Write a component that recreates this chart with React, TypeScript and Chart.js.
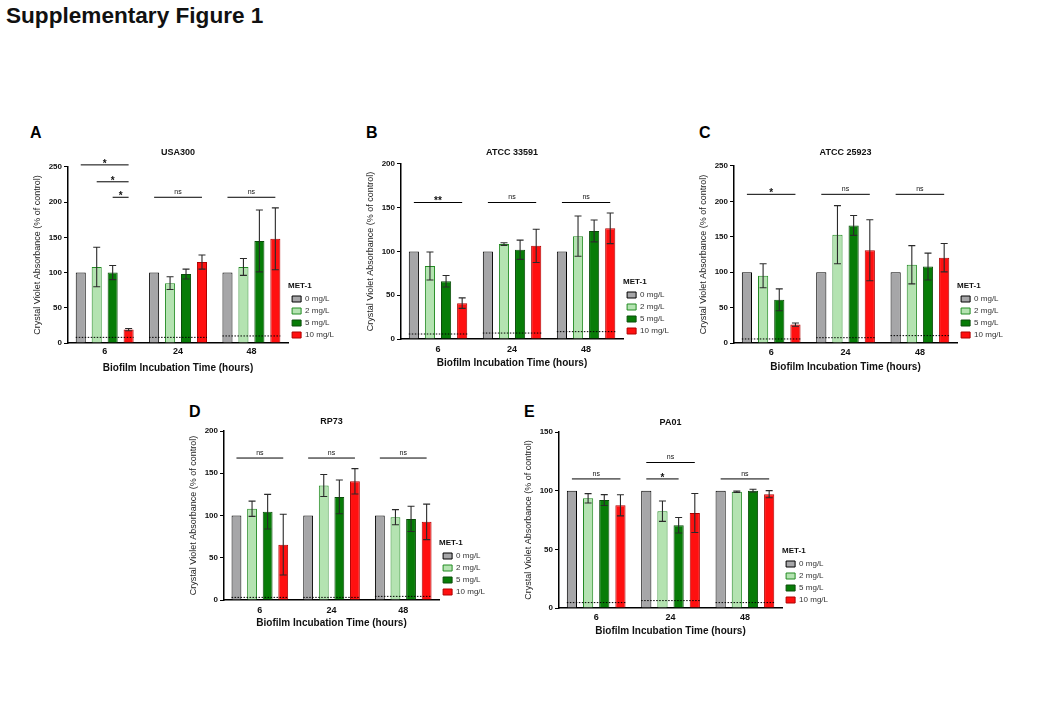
import React, { useEffect, useRef } from "react";
import { Chart, registerables } from "chart.js";

Chart.register(...registerables);

const FONT = "'Liberation Sans', Arial, sans-serif";
Chart.defaults.font.family = FONT;

// ---- data (rows = MET-1 dose, columns = incubation time) ----
const categories = ["6", "24", "48"];
const doses = ["0 mg/L", "2 mg/L", "5 mg/L", "10 mg/L"];

const usa300Means = [[100, 100, 100], [108, 85, 108], [100, 98, 145], [19, 115, 148]];
const usa300Sd = [[0, 0, 0], [28, 9, 12], [10, 7, 44], [1.5, 10, 44]];
const usa300Blank = [8, 8, 10];
const usa300Sig = [
  { group: 0, from: 0, to: 3, value: 253, label: "*" },
  { group: 0, from: 1, to: 3, value: 229, label: "*" },
  { group: 0, from: 2, to: 3, value: 207, label: "*" },
  { group: 1, from: 0, to: 3, value: 207, label: "ns" },
  { group: 2, from: 0, to: 3, value: 207, label: "ns" },
];

const atcc33591Means = [[100, 100, 100], [83.5, 108.5, 117.5], [66, 102, 123.5], [41, 106.5, 126.5]];
const atcc33591Sd = [[0, 0, 0], [16, 1.5, 23], [6.5, 11, 12.5], [6, 19, 17.5]];
const atcc33591Blank = [5.7, 6.8, 8.4];
const atcc33591Sig = [
  { group: 0, from: 0, to: 3, value: 156, label: "**" },
  { group: 1, from: 0, to: 3, value: 156, label: "ns" },
  { group: 2, from: 0, to: 3, value: 156, label: "ns" },
];

const atcc25923Means = [[100, 100, 100], [95, 153, 110.5], [61, 166, 108], [26, 131, 120.5]];
const atcc25923Sd = [[0, 0, 0], [17, 41, 27], [15.5, 14, 19], [2.3, 43, 20]];
const atcc25923Blank = [5.7, 7.5, 10.4];
const atcc25923Sig = [
  { group: 0, from: 0, to: 3, value: 210, label: "*" },
  { group: 1, from: 0, to: 3, value: 210, label: "ns" },
  { group: 2, from: 0, to: 3, value: 210, label: "ns" },
];

const rp73Means = [[100, 100, 100], [108, 135.5, 98], [104.5, 122, 96], [65.5, 140.5, 92.5]];
const rp73Sd = [[0, 0, 0], [9, 13, 9], [20.5, 20, 15], [36, 15, 21]];
const rp73Blank = [3.1, 3.1, 4.3];
const rp73Sig = [
  { group: 0, from: 0, to: 3, value: 168, label: "ns" },
  { group: 1, from: 0, to: 3, value: 168, label: "ns" },
  { group: 2, from: 0, to: 3, value: 168, label: "ns" },
];

const pa01Means = [[100, 100, 100], [93.5, 82.5, 99], [92, 70.5, 100], [87.5, 81, 97]];
const pa01Sd = [[0, 0, 0], [4, 8.7, 0.6], [4.6, 6.6, 1.2], [9, 16.6, 3]];
const pa01Blank = [4.6, 6.3, 4.6];
const pa01Sig = [
  { group: 0, from: 0, to: 3, value: 110, label: "ns" },
  { group: 1, from: 0, to: 2, value: 110, label: "*" },
  { group: 1, from: 0, to: 3, value: 124, label: "ns" },
  { group: 2, from: 0, to: 3, value: 110, label: "ns" },
];

// ---- styling ----
const fills = ["#a6a6a8", "#b4e3b1", "#077c07", "#ff1010"];
const borders = ["#000000", "#228b22", "#0b4d0b", "#b00000"];

const Y_AXIS_W = 48;
const TITLE_H = 30;
const X_AXIS_H = 34;

interface Sig {
  group: number;
  from: number;
  to: number;
  value: number;
  label: string;
}
interface PanelSpec {
  letter: string;
  letterX: number;
  letterY: number;
  title: string;
  means: number[][];
  sd: number[][];
  blank: number[];
  sig: Sig[];
  yMax: number;
  left: number;
  top: number;
  bottom: number;
  legendLeft: number;
  titleY: number;
  tickY: number;
  axisTitleY: number;
}

const panels: PanelSpec[] = [
  { letter: "A", letterX: 31, letterY: 127, title: "USA300", means: usa300Means, sd: usa300Sd, blank: usa300Blank, sig: usa300Sig, yMax: 250,
    left: 68, top: 167, bottom: 343, legendLeft: 288, titleY: 153, tickY: 352, axisTitleY: 368 },
  { letter: "B", letterX: 367, letterY: 127, title: "ATCC 33591", means: atcc33591Means, sd: atcc33591Sd, blank: atcc33591Blank, sig: atcc33591Sig, yMax: 200,
    left: 401, top: 164, bottom: 339, legendLeft: 623, titleY: 153, tickY: 350, axisTitleY: 363 },
  { letter: "C", letterX: 700, letterY: 127, title: "ATCC 25923", means: atcc25923Means, sd: atcc25923Sd, blank: atcc25923Blank, sig: atcc25923Sig, yMax: 250,
    left: 734, top: 166, bottom: 343, legendLeft: 957, titleY: 153, tickY: 353, axisTitleY: 367 },
  { letter: "D", letterX: 190, letterY: 406, title: "RP73", means: rp73Means, sd: rp73Sd, blank: rp73Blank, sig: rp73Sig, yMax: 200,
    left: 224, top: 431, bottom: 600, legendLeft: 439, titleY: 422, tickY: 611, axisTitleY: 623 },
  { letter: "E", letterX: 525, letterY: 406, title: "PA01", means: pa01Means, sd: pa01Sd, blank: pa01Blank, sig: pa01Sig, yMax: 150,
    left: 559, top: 432, bottom: 608, legendLeft: 782, titleY: 423, tickY: 618, axisTitleY: 631 },
];

let measureCtx: CanvasRenderingContext2D | null = null;
const legendWidth = () => {
  if (!measureCtx) measureCtx = document.createElement("canvas").getContext("2d");
  let w = 0;
  if (measureCtx) {
    measureCtx.font = `normal 8px ${FONT}`;
    doses.forEach((d) => (w = Math.max(w, measureCtx!.measureText(d).width)));
  }
  // labels.padding + box + half font + text + chart.js's fixed 10px
  return 4 + 9 + 4 + w + 10;
};

const BarPanel = ({ p }: { p: PanelSpec }) => {
  const chartRef = useRef<HTMLCanvasElement | null>(null);

  const canvasLeft = p.left - Y_AXIS_W;
  const canvasTop = p.top - TITLE_H;
  const width = Math.round(p.legendLeft - canvasLeft + legendWidth());
  const height = TITLE_H + (p.bottom - p.top) + X_AXIS_H;

  useEffect(() => {
    if (!chartRef.current) return;
    const ctx = chartRef.current.getContext("2d");
    if (!ctx) throw new Error("Could not get chart context");

    const titleTop = p.titleY - canvasTop - 5.4;
    const titleBottom = TITLE_H - titleTop - 10.8;
    const tickPad = p.tickY - p.bottom - 5.4;
    const xTitlePad = X_AXIS_H - (p.axisTitleY - p.bottom) - 6;

    const marks = {
      id: "marks",
      afterDatasetsDraw(chart: any) {
        const c = chart.ctx;
        const y = chart.scales.y;
        const metas = doses.map((_, i) => chart.getDatasetMeta(i));
        c.save();
        // error bars
        c.strokeStyle = "#2a2a2a";
        c.lineWidth = 1.1;
        p.means.forEach((row, i) =>
          row.forEach((m, j) => {
            const sd = p.sd[i][j];
            if (!sd) return;
            const x = metas[i].data[j].x;
            const y1 = y.getPixelForValue(m + sd);
            const y2 = y.getPixelForValue(m - sd);
            c.beginPath();
            c.moveTo(x, y1);
            c.lineTo(x, y2);
            c.moveTo(x - 3.5, y1);
            c.lineTo(x + 3.5, y1);
            c.moveTo(x - 3.5, y2);
            c.lineTo(x + 3.5, y2);
            c.stroke();
          })
        );
        // blank (background) level, dotted
        c.strokeStyle = "#000";
        c.lineWidth = 1;
        c.setLineDash([1.5, 1.5]);
        p.blank.forEach((v, j) => {
          const first = metas[0].data[j];
          const last = metas[3].data[j];
          const yy = y.getPixelForValue(v);
          c.beginPath();
          c.moveTo(first.x - first.width / 2, yy);
          c.lineTo(last.x + last.width / 2, yy);
          c.stroke();
        });
        c.setLineDash([]);
        // significance bars
        c.fillStyle = "#111";
        c.textAlign = "center";
        c.textBaseline = "middle";
        p.sig.forEach((s) => {
          const x1 = metas[s.from].data[s.group].x;
          const x2 = metas[s.to].data[s.group].x;
          const yy = y.getPixelForValue(s.value);
          c.beginPath();
          c.moveTo(x1, yy);
          c.lineTo(x2, yy);
          c.stroke();
          const star = s.label.startsWith("*");
          c.font = star ? `bold 10px ${FONT}` : `normal 7px ${FONT}`;
          c.fillText(s.label, (x1 + x2) / 2, yy - (star ? 1 : 5));
        });
        c.restore();
      },
    };

    const myChart = new Chart(ctx, {
      type: "bar",
      data: {
        labels: categories,
        datasets: doses.map((d, i) => ({
          label: d,
          data: p.means[i],
          backgroundColor: fills[i],
          borderColor: borders[i],
          borderWidth: 1,
          categoryPercentage: 0.87,
          barPercentage: 0.63,
        })),
      },
      options: {
        responsive: false,
        animation: false,
        layout: { padding: 0 },
        scales: {
          x: {
            ticks: { font: { size: 9, weight: "bold" }, color: "#111", padding: tickPad },
            grid: { display: false, drawTicks: false },
            border: { display: true, color: "#000", width: 1.5 },
            title: {
              display: true,
              text: "Biofilm Incubation Time (hours)",
              font: { size: 10, weight: "bold" },
              color: "#111",
              padding: { top: 0, bottom: xTitlePad },
            },
            afterFit: (s: any) => {
              s.height = X_AXIS_H;
            },
          },
          y: {
            min: 0,
            max: p.yMax,
            ticks: { stepSize: 50, font: { size: 8, weight: "bold" }, color: "#111", padding: 2 },
            grid: { display: true, drawOnChartArea: false, drawTicks: true, tickLength: 4, color: "#000" },
            border: { display: true, color: "#000", width: 1.5 },
            title: {
              display: true,
              text: "Crystal Violet Absorbance (% of control)",
              font: { size: 9 },
              color: "#222",
              padding: { top: 12.6, bottom: 0 },
            },
            afterFit: (s: any) => {
              s.width = Y_AXIS_W;
            },
          },
        },
        plugins: {
          title: {
            display: true,
            text: p.title,
            fullSize: false,
            font: { size: 9, weight: "bold" },
            color: "#111",
            padding: { top: titleTop, bottom: titleBottom },
          },
          legend: {
            position: "right",
            align: "end",
            fullSize: false,
            title: {
              display: true,
              text: "MET-1",
              position: "start",
              font: { size: 8, weight: "bold" },
              color: "#111",
              padding: 0,
            },
            labels: { boxWidth: 9, boxHeight: 6, padding: 4, font: { size: 8 }, color: "#333" },
          },
          tooltip: { enabled: false },
        },
      },
      plugins: [marks],
    } as any);

    return () => {
      myChart.destroy();
    };
  }, []);

  return (
    <>
      <div
        style={{
          position: "absolute",
          left: p.letterX - 1,
          top: p.letterY - 2,
          fontFamily: FONT,
          fontWeight: "bold",
          fontSize: 16,
          lineHeight: 1,
          color: "#000",
        }}
      >
        {p.letter}
      </div>
      <canvas
        ref={chartRef}
        width={width}
        height={height}
        style={{ position: "absolute", left: canvasLeft, top: canvasTop, width, height }}
      />
    </>
  );
};

const App = () => {
  return (
    <div
      style={{
        position: "absolute",
        left: 0,
        top: 0,
        width: 1040,
        height: 720,
        background: "#fff",
        overflow: "hidden",
      }}
    >
      <div
        style={{
          position: "absolute",
          left: 6,
          top: 5,
          fontFamily: FONT,
          fontWeight: "bold",
          fontSize: 22.6,
          lineHeight: 1,
          color: "#111",
        }}
      >
        Supplementary Figure 1
      </div>
      {panels.map((p) => (
        <BarPanel key={p.letter} p={p} />
      ))}
    </div>
  );
};

export default App;
